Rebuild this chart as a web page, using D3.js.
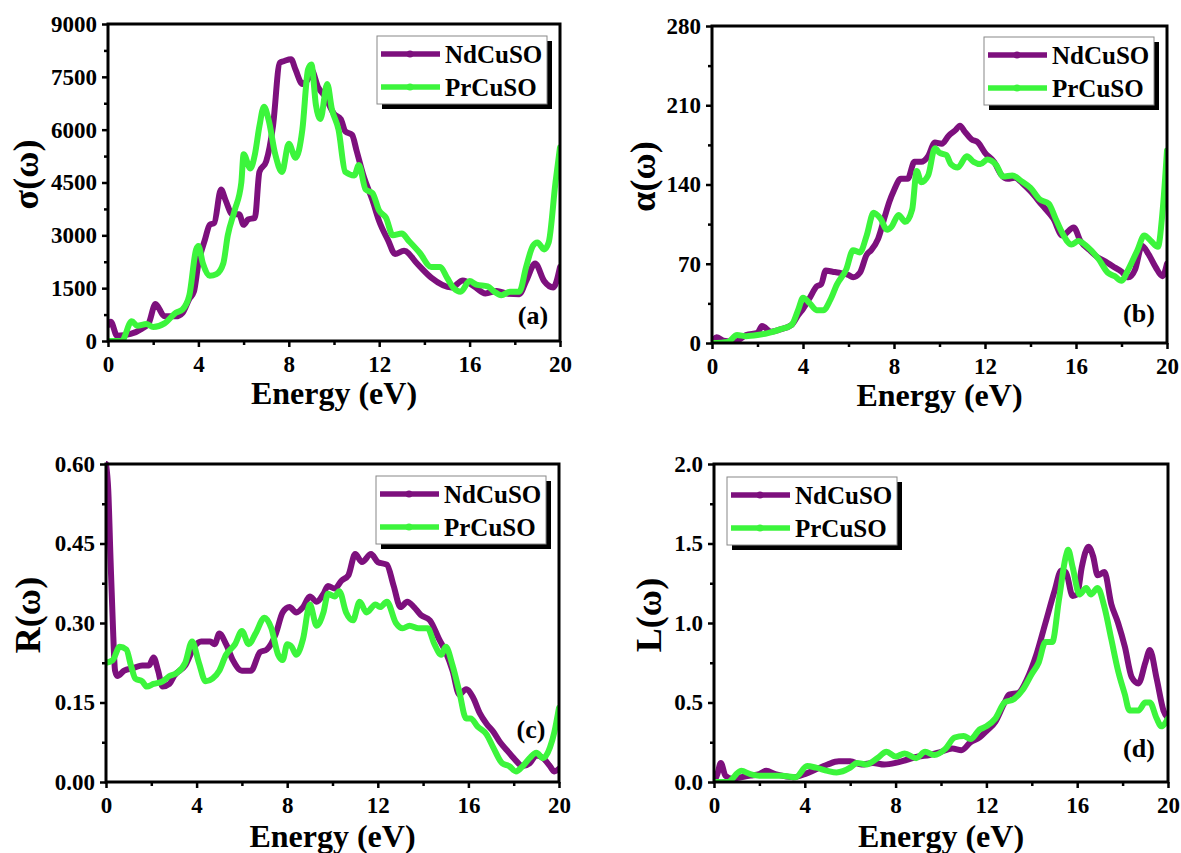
<!DOCTYPE html>
<html>
<head>
<meta charset="utf-8">
<script src="https://cdn.jsdelivr.net/npm/d3@7"></script>
<style>
  html, body { margin: 0; padding: 0; background: #fff; }
  svg { display: block; }
  text { font-family: "Liberation Serif", "Times New Roman", serif; font-weight: bold; fill: #000; }
</style>
</head>
<body>
<svg id="chart" width="1181" height="853"></svg>
<script>
// ---------------- DATA ----------------
const seriesNames = ["NdCuSO", "PrCuSO"];
const xTicks = [0, 4, 8, 12, 16, 20];

// (a) optical conductivity sigma(w)
const sigmaTicks = [0, 1500, 3000, 4500, 6000, 7500, 9000];
const sigmaNd = [[0,450],[0.12,550],[0.4,150],[1.0,200],[1.5,350],[1.8,500],[2.1,1050],[2.5,700],[3.0,700],[3.3,800],[3.6,1200],[3.8,1400],[4.0,2200],[4.3,2900],[4.5,3300],[4.7,3350],[5.0,4300],[5.2,4000],[5.5,3600],[5.8,3600],[6.0,3300],[6.2,3450],[6.5,3500],[6.7,4800],[7.0,5100],[7.3,6100],[7.6,7900],[7.8,7950],[8.1,8000],[8.3,7700],[8.6,7300],[8.9,7500],[9.0,7700],[9.3,7200],[9.6,6950],[10.0,6450],[10.3,6300],[10.5,5950],[10.8,5850],[11.0,5400],[11.3,4700],[11.7,4000],[12.0,3400],[12.4,2850],[12.7,2470],[13.1,2560],[13.7,2180],[14.3,1800],[15.2,1520],[15.7,1720],[16.2,1550],[16.7,1350],[17.2,1420],[17.7,1340],[18.2,1330],[18.5,1700],[18.9,2200],[19.3,1700],[19.7,1520],[20.0,2100]];
const sigmaPr = [[0,0],[0.6,0],[1.05,560],[1.3,430],[1.7,480],[2.0,400],[2.5,500],[3.0,800],[3.3,900],[3.6,1300],[3.9,2600],[4.0,2700],[4.2,2200],[4.5,1850],[4.8,1900],[5.1,2200],[5.3,3000],[5.6,3700],[5.9,4500],[6.0,5300],[6.3,4900],[6.5,5300],[6.7,6100],[6.9,6650],[7.1,6300],[7.4,5300],[7.7,4800],[8.0,5600],[8.3,5200],[8.6,6000],[8.85,7700],[9.0,7850],[9.2,6700],[9.4,6300],[9.7,7300],[9.9,6600],[10.2,6000],[10.5,4800],[10.9,4700],[11.1,5000],[11.4,4300],[11.7,4200],[12.0,3700],[12.3,3500],[12.6,3000],[13.0,3050],[13.3,2850],[13.8,2500],[14.3,2100],[14.7,2100],[15.0,1800],[15.3,1500],[15.6,1400],[16.0,1700],[16.3,1600],[16.8,1550],[17.1,1400],[17.4,1300],[17.8,1400],[18.2,1400],[18.5,2100],[18.8,2700],[19.0,2800],[19.3,2600],[19.5,2800],[19.8,4500],[20.0,5500]];

// (b) absorption alpha(w)
const alphaTicks = [0, 70, 140, 210, 280];
const alphaNd = [[0,1],[0.2,5],[0.5,2],[1.0,1],[1.5,7],[2.0,9],[2.2,15],[2.6,10],[3.0,12],[3.5,16],[3.8,25],[4.0,30],[4.3,40],[4.6,50],[4.8,52],[5.0,64],[5.3,63],[5.6,62],[6.0,60],[6.2,58],[6.5,62],[6.8,78],[7.0,82],[7.3,92],[7.6,112],[7.8,125],[8.0,135],[8.3,145],[8.6,145],[8.9,160],[9.2,160],[9.5,165],[9.8,177],[10.1,176],[10.4,183],[10.7,188],[10.9,192],[11.1,187],[11.4,180],[11.7,177],[12.0,168],[12.4,160],[12.7,149],[13.0,145],[13.3,146],[13.7,140],[14.0,134],[14.5,122],[15.0,110],[15.4,95],[15.9,102],[16.2,90],[16.6,82],[17.0,75],[17.3,72],[17.6,68],[18.0,63],[18.3,58],[18.6,65],[18.9,86],[19.2,78],[19.5,67],[19.8,59],[20.0,70]];
const alphaPr = [[0,0],[0.7,1],[1.1,7],[1.5,6],[2.0,7],[2.5,9],[3.0,12],[3.5,16],[3.8,30],[4.0,40],[4.3,35],[4.6,29],[4.9,29],[5.2,38],[5.5,52],[5.9,65],[6.2,82],[6.5,80],[6.8,95],[7.1,115],[7.4,110],[7.7,100],[7.9,103],[8.2,113],[8.5,107],[8.8,118],[9.0,152],[9.2,142],[9.5,148],[9.8,172],[10.0,168],[10.3,166],[10.5,158],[10.8,155],[11.2,165],[11.5,160],[11.8,158],[12.1,162],[12.5,157],[12.8,147],[13.2,148],[13.6,143],[14.0,137],[14.4,127],[14.8,123],[15.1,110],[15.4,97],[15.8,87],[16.1,90],[16.5,85],[17.0,74],[17.4,62],[17.7,59],[18.0,55],[18.3,65],[18.7,82],[19.0,95],[19.3,90],[19.6,85],[19.8,115],[20.0,170]];

// (c) reflectivity R(w)
const reflTicks = [0.00, 0.15, 0.30, 0.45, 0.60];
const reflNd = [[0,0.60],[0.1,0.55],[0.2,0.42],[0.3,0.30],[0.4,0.21],[0.5,0.20],[0.8,0.21],[1.2,0.215],[1.6,0.22],[1.9,0.22],[2.1,0.235],[2.3,0.21],[2.5,0.18],[2.8,0.185],[3.0,0.20],[3.5,0.22],[3.9,0.255],[4.2,0.265],[4.6,0.265],[4.8,0.26],[5.0,0.28],[5.3,0.26],[5.6,0.23],[6.0,0.21],[6.4,0.21],[6.8,0.245],[7.1,0.25],[7.5,0.28],[7.8,0.32],[8.1,0.33],[8.4,0.32],[8.7,0.33],[9.0,0.35],[9.3,0.34],[9.6,0.355],[9.8,0.37],[10.1,0.365],[10.4,0.38],[10.7,0.39],[11.0,0.43],[11.3,0.415],[11.7,0.43],[12.0,0.415],[12.4,0.41],[12.7,0.37],[13.0,0.33],[13.3,0.34],[13.6,0.33],[13.9,0.315],[14.3,0.305],[14.7,0.27],[15.0,0.245],[15.3,0.21],[15.6,0.165],[15.9,0.175],[16.2,0.16],[16.5,0.13],[16.8,0.11],[17.1,0.095],[17.4,0.075],[17.7,0.06],[18.0,0.045],[18.4,0.03],[18.7,0.035],[19.0,0.05],[19.3,0.045],[19.6,0.03],[19.8,0.02],[20.0,0.025]];
const reflPr = [[0,0.225],[0.3,0.23],[0.6,0.255],[0.9,0.25],[1.1,0.22],[1.3,0.195],[1.6,0.19],[1.8,0.18],[2.1,0.185],[2.5,0.19],[2.8,0.2],[3.1,0.205],[3.5,0.225],[3.8,0.265],[4.1,0.225],[4.4,0.19],[4.7,0.195],[5.0,0.21],[5.3,0.24],[5.7,0.26],[6.0,0.285],[6.3,0.26],[6.6,0.28],[7.0,0.31],[7.3,0.29],[7.6,0.24],[7.8,0.23],[8.0,0.26],[8.2,0.255],[8.4,0.24],[8.7,0.27],[9.0,0.335],[9.3,0.295],[9.6,0.32],[9.8,0.355],[10.1,0.35],[10.3,0.36],[10.6,0.32],[10.9,0.305],[11.2,0.34],[11.5,0.32],[11.9,0.335],[12.1,0.33],[12.4,0.34],[12.8,0.3],[13.1,0.29],[13.4,0.295],[13.8,0.29],[14.2,0.29],[14.5,0.26],[14.8,0.24],[15.0,0.255],[15.3,0.22],[15.6,0.17],[15.9,0.12],[16.1,0.12],[16.4,0.105],[16.8,0.09],[17.1,0.065],[17.5,0.035],[17.8,0.03],[18.1,0.02],[18.4,0.03],[18.7,0.045],[19.0,0.055],[19.3,0.045],[19.6,0.065],[19.8,0.095],[20.0,0.14]];

// (d) energy loss L(w)
const lossTicks = [0.0, 0.5, 1.0, 1.5, 2.0];
const lossNd = [[0,0.0],[0.15,0.05],[0.3,0.12],[0.5,0.04],[0.8,0.02],[1.2,0.03],[1.6,0.04],[2.0,0.05],[2.3,0.07],[2.7,0.05],[3.0,0.04],[3.5,0.03],[4.0,0.05],[4.5,0.08],[5.0,0.11],[5.5,0.13],[6.0,0.13],[6.5,0.11],[7.0,0.12],[7.5,0.11],[8.0,0.12],[8.5,0.14],[9.0,0.16],[9.5,0.17],[10.0,0.19],[10.5,0.21],[10.9,0.20],[11.3,0.25],[11.7,0.28],[12.0,0.32],[12.4,0.38],[12.8,0.50],[13.0,0.55],[13.4,0.56],[13.8,0.65],[14.2,0.80],[14.6,1.00],[15.0,1.20],[15.3,1.33],[15.5,1.32],[15.8,1.17],[16.0,1.18],[16.2,1.35],[16.5,1.48],[16.7,1.42],[16.9,1.30],[17.2,1.32],[17.5,1.12],[17.8,1.00],[18.1,0.85],[18.4,0.66],[18.7,0.62],[19.0,0.75],[19.2,0.83],[19.5,0.65],[19.8,0.45],[20.0,0.40]];
const lossPr = [[0,0.0],[0.6,0.0],[1.2,0.07],[1.6,0.05],[2.0,0.04],[2.5,0.04],[3.0,0.04],[3.6,0.03],[4.1,0.10],[4.5,0.09],[5.0,0.07],[5.4,0.06],[6.0,0.09],[6.3,0.12],[6.7,0.11],[7.2,0.15],[7.6,0.19],[8.0,0.16],[8.4,0.18],[8.9,0.15],[9.3,0.19],[9.7,0.17],[10.2,0.21],[10.6,0.28],[11.0,0.29],[11.3,0.27],[11.7,0.33],[12.0,0.35],[12.4,0.40],[12.8,0.50],[13.2,0.52],[13.6,0.58],[14.0,0.68],[14.3,0.75],[14.6,0.88],[14.9,0.88],[15.2,1.15],[15.5,1.42],[15.6,1.46],[15.8,1.35],[16.1,1.18],[16.4,1.22],[16.6,1.18],[16.9,1.22],[17.2,1.10],[17.5,0.90],[17.8,0.70],[18.1,0.55],[18.3,0.45],[18.7,0.45],[19.0,0.50],[19.2,0.50],[19.5,0.40],[19.7,0.35],[20.0,0.40]];

// ---------------- STYLE / LAYOUT ----------------
const colors = ["#7d107d", "#3cf53c"];
const svg = d3.select("#chart");

const panels = [
  { box: [108, 24, 560, 341], ticks: sigmaTicks, fmt: d3.format("d"), title: "σ(ω)", data: [sigmaNd, sigmaPr],
    tag: "(a)", tagPos: [533, 324], legend: [377, 36], yTitleX: 38, xTitleY: 404 },
  { box: [712, 26, 1167, 343], ticks: alphaTicks, fmt: d3.format("d"), title: "α(ω)", data: [alphaNd, alphaPr],
    tag: "(b)", tagPos: [1139, 322], legend: [984, 37], yTitleX: 655, xTitleY: 406 },
  { box: [106, 464, 559, 782], ticks: reflTicks, fmt: d3.format(".2f"), title: "R(ω)", data: [reflNd, reflPr],
    tag: "(c)", tagPos: [531, 738], legend: [376, 476], yTitleX: 40, xTitleY: 847 },
  { box: [714, 464, 1168, 782], ticks: lossTicks, fmt: d3.format(".1f"), title: "L(ω)", data: [lossNd, lossPr],
    tag: "(d)", tagPos: [1139, 757], legend: [727, 477], yTitleX: 661, xTitleY: 847 }
];

panels.forEach((p, i) => {
  const [x0, y0, x1, y1] = p.box;
  const x = d3.scaleLinear().domain([0, 20]).range([x0, x1]);
  const yMax = p.ticks[p.ticks.length - 1];
  const y = d3.scaleLinear().domain([0, yMax]).range([y1, y0]);
  const g = svg.append("g");

  const clipId = "clip" + i;
  svg.append("clipPath").attr("id", clipId).append("rect")
    .attr("x", x0).attr("y", y0 - 3).attr("width", x1 - x0).attr("height", y1 - y0 + 3);

  const step = p.ticks[1] - p.ticks[0];
  const yMinor = p.ticks.slice(0, -1).map(t => t + step / 2);
  const xMinor = [2, 6, 10, 14, 18];

  const styleText = a => a.selectAll("text").style("font-size", "23px")
    .style("font-family", "'Liberation Serif', serif").style("font-weight", "bold").attr("fill", "#000");

  g.append("g").attr("transform", `translate(0,${y1})`)
    .call(d3.axisBottom(x).tickValues(xMinor).tickSize(4).tickFormat(""))
    .call(a => { a.select(".domain").remove(); a.selectAll("line").attr("stroke-width", 2.5); });
  g.append("g").attr("transform", `translate(${x0},0)`)
    .call(d3.axisLeft(y).tickValues(yMinor).tickSize(4).tickFormat(""))
    .call(a => { a.select(".domain").remove(); a.selectAll("line").attr("stroke-width", 2.5); });

  g.append("g").attr("transform", `translate(0,${y1})`)
    .call(d3.axisBottom(x).tickValues(xTicks).tickSize(6).tickPadding(9).tickFormat(d3.format("d")))
    .call(a => { a.select(".domain").remove(); a.selectAll("line").attr("stroke-width", 2.5); })
    .call(styleText);
  g.append("g").attr("transform", `translate(${x0},0)`)
    .call(d3.axisLeft(y).tickValues(p.ticks).tickSize(6).tickPadding(5).tickFormat(p.fmt))
    .call(a => { a.select(".domain").remove(); a.selectAll("line").attr("stroke-width", 2.5); })
    .call(styleText);

  const line = d3.line().x(d => x(d[0])).y(d => y(d[1])).curve(d3.curveMonotoneX);
  const cg = g.append("g").attr("clip-path", `url(#${clipId})`);
  p.data.forEach((ser, k) => {
    cg.append("path").datum(ser).attr("d", line)
      .attr("fill", "none").attr("stroke", colors[k]).attr("stroke-width", 6)
      .attr("stroke-linejoin", "round").attr("stroke-linecap", "round");
  });

  g.append("rect").attr("x", x0).attr("y", y0).attr("width", x1 - x0).attr("height", y1 - y0)
    .attr("fill", "none").attr("stroke", "#000").attr("stroke-width", 3);

  const [lx, ly] = p.legend;
  const lw = 170, lh = 68;
  const lg = g.append("g");
  lg.append("rect").attr("x", lx + 5).attr("y", ly + 5).attr("width", lw).attr("height", lh).attr("fill", "#000");
  lg.append("rect").attr("x", lx).attr("y", ly).attr("width", lw).attr("height", lh)
    .attr("fill", "#fff").attr("stroke", "#888").attr("stroke-width", 1);
  seriesNames.forEach((name, k) => {
    const ry = ly + 18 + k * 33;
    lg.append("line").attr("x1", lx + 4).attr("x2", lx + 63).attr("y1", ry).attr("y2", ry)
      .attr("stroke", colors[k]).attr("stroke-width", 5.5);
    lg.append("circle").attr("cx", lx + 33).attr("cy", ry).attr("r", 3.5).attr("fill", colors[k]);
    lg.append("text").attr("x", lx + 68).attr("y", ry + 8.5).style("font-size", "25px").text(name);
  });

  g.append("text").attr("x", p.tagPos[0]).attr("y", p.tagPos[1]).attr("text-anchor", "middle")
    .style("font-size", "26px").text(p.tag);

  g.append("text").attr("x", (x0 + x1) / 2).attr("y", p.xTitleY).attr("text-anchor", "middle")
    .style("font-size", "32px").text("Energy (eV)");
  g.append("text").attr("transform", `translate(${p.yTitleX},${(y0 + y1) / 2 - 8}) rotate(-90)`)
    .attr("text-anchor", "middle").style("font-size", "36px").text(p.title);
});
</script>
</body>
</html>
